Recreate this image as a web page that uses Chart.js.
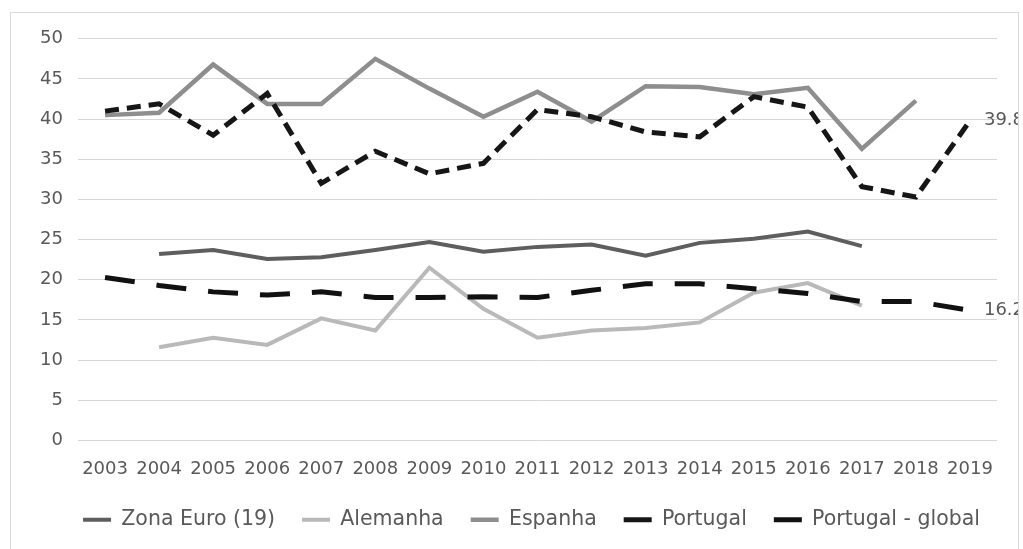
<!DOCTYPE html>
<html>
<head>
<meta charset="utf-8">
<script src="https://cdn.jsdelivr.net/npm/chart.js@4"></script>
<style>
  html, body { margin: 0; padding: 0; background: #fff; overflow: hidden; }
  #frame { position: absolute; left: 10px; top: 12px; width: 1007px; height: 560px;
           border: 1px solid #d9d9d9; overflow: hidden; background: #fff; }
  #box { position: absolute; left: 0; top: 0; width: 1060px; height: 531px; }
</style>
</head>
<body>
<div id="frame"><div id="box"><canvas id="c"></canvas></div></div>
<script>
// Anos
const years = ['2003','2004','2005','2006','2007','2008','2009','2010','2011',
               '2012','2013','2014','2015','2016','2017','2018','2019'];

// Séries (%)
const zonaEuro       = [null, 23.2, 23.7, 22.6, 22.8, 23.7, 24.7, 23.5, 24.1, 24.4, 23.0, 24.6, 25.1, 26.0, 24.2, null, null];
const alemanha       = [null, 11.6, 12.8, 11.9, 15.2, 13.7, 21.5, 16.4, 12.8, 13.7, 14.0, 14.7, 18.4, 19.6, 16.8, null, null];
const espanha        = [40.5, 40.8, 46.8, 41.9, 41.9, 47.5, 43.8, 40.3, 43.4, 39.7, 44.1, 44.0, 43.1, 43.9, 36.3, 42.3, null];
const portugal       = [41.0, 41.9, 38.0, 43.2, 32.0, 36.0, 33.2, 34.5, 41.2, 40.3, 38.4, 37.8, 42.8, 41.5, 31.6, 30.3, 39.8];
const portugalGlobal = [20.3, 19.3, 18.5, 18.1, 18.5, 17.8, 17.8, 17.9, 17.8, 18.7, 19.5, 19.5, 18.9, 18.3, 17.3, 17.3, 16.2];

// Eixo vertical
const yMin = 0, yMax = 50, yStep = 5;

const textGray = '#595959';
Chart.defaults.font.family = "'DejaVu Sans', sans-serif";

// Rótulo com o último valor das séries de Portugal
const endLabels = {
  id: 'endLabels',
  afterDatasetsDraw(chart) {
    const ctx = chart.ctx;
    ctx.save();
    ctx.font = "18px 'DejaVu Sans', sans-serif";
    ctx.fillStyle = textGray;
    ctx.textAlign = 'left';
    ctx.textBaseline = 'middle';
    chart.data.datasets.forEach((ds, i) => {
      if (!ds.endLabel) return;
      const meta = chart.getDatasetMeta(i);
      const last = ds.data.length - 1;
      const pt = meta.data[last];
      if (!pt) return;
      ctx.fillText(ds.data[last].toFixed(1), pt.x + 14, pt.y);
    });
    ctx.restore();
  }
};

const line = (label, data, color, width, extra) => Object.assign({
  label, data,
  borderColor: color, backgroundColor: color,
  borderWidth: width, pointRadius: 0, pointHoverRadius: 0,
  tension: 0, fill: false, spanGaps: false,
  borderCapStyle: 'butt', borderJoinStyle: 'miter'
}, extra || {});

new Chart(document.getElementById('c'), {
  type: 'line',
  data: {
    labels: years,
    datasets: [
      line('Zona Euro (19)', zonaEuro, '#5e5e5e', 4, { order: 1 }),
      line('Alemanha', alemanha, '#b9b9b9', 4, { order: 1 }),
      line('Espanha', espanha, '#8e8e8e', 4.5, { order: 1 }),
      line('Portugal', portugal, '#161616', 5, { order: 0, borderDash: [14, 8], endLabel: true }),
      line('Portugal - global', portugalGlobal, '#111111', 5, { order: 0, borderDash: [30, 22], endLabel: true })
    ]
  },
  options: {
    responsive: true,
    maintainAspectRatio: false,
    animation: false,
    events: [],
    layout: { padding: { left: 0, right: 19, top: 24, bottom: 4 } },
    scales: {
      x: {
        offset: true,
        grid: { display: false },
        border: { display: false },
        ticks: { color: textGray, font: { size: 18 }, padding: 10, autoSkip: false, maxRotation: 0 },
        afterFit: s => { s.height = 42; }
      },
      y: {
        min: yMin, max: yMax,
        grid: { color: '#d6d6d6', lineWidth: 1, drawTicks: false },
        border: { display: false },
        ticks: { stepSize: yStep, color: textGray, font: { size: 18 }, padding: 15 },
        afterFit: s => { s.width = 67; }
      },
      y2: {
        position: 'right',
        min: yMin, max: yMax,
        grid: { display: false },
        border: { display: false },
        ticks: { display: false },
        afterFit: s => { s.width = 55; }
      }
    },
    plugins: {
      tooltip: { enabled: false },
      legend: {
        position: 'bottom',
        labels: {
          usePointStyle: true,
          pointStyle: 'line',
          pointStyleWidth: 28,
          padding: 27,
          color: textGray,
          font: { size: 20.5 },
          sort: (a, b) => a.datasetIndex - b.datasetIndex
        }
      }
    }
  },
  plugins: [endLabels]
});
</script>
</body>
</html>
